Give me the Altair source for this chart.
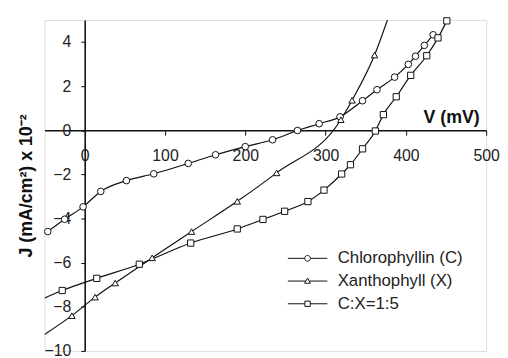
import altair as alt
import pandas as pd

series_names = ["Chlorophyllin (C)", "Xanthophyll (X)", "C:X=1:5"]

circ_V = [-46, -25, -2, 20, 52, 86, 129, 163, 200, 234, 265, 292, 318, 346, 364, 386, 403, 412, 423, 434]
circ_J = [-4.59, -4.03, -3.47, -2.77, -2.28, -1.97, -1.50, -1.11, -0.74, -0.43, -0.01, 0.30, 0.61, 1.34, 1.84, 2.41, 2.99, 3.36, 3.85, 4.33]

tri_V = [-16, 13, 38, 84, 133, 190, 239, 319, 333, 361]
tri_J = [-8.40, -7.56, -6.92, -5.78, -4.59, -3.22, -1.93, 0.48, 1.36, 3.41]
tri_line_V = [-50, 377]
tri_line_J = [-9.25, 5.0]

sq_V = [-28, 15, 68, 132, 190, 222, 249, 278, 298, 320, 331, 346, 362, 372, 388, 406, 426, 440, 451]
sq_J = [-7.26, -6.71, -6.07, -5.11, -4.47, -4.04, -3.67, -3.23, -2.71, -1.98, -1.56, -0.84, -0.03, 0.71, 1.52, 2.49, 3.38, 4.19, 4.96]
sq_line_V = [-50]
sq_line_J = [-7.60]

x_ticks = [0, 100, 200, 300, 400, 500]
y_ticks = [-10, -8, -6, -4, -2, 0, 2, 4]

rows = []
for name, vs, js, marker in [
    (series_names[0], circ_V, circ_J, True),
    (series_names[1], tri_V, tri_J, True),
    (series_names[1], tri_line_V, tri_line_J, False),
    (series_names[2], sq_V, sq_J, True),
    (series_names[2], sq_line_V, sq_line_J, False),
]:
    for v, j in zip(vs, js):
        rows.append({"series": name, "V": v, "J": j, "marker": marker})
df = pd.DataFrame(rows)

W, H = 447, 335
X_DOM = [-50, 500]
Y_DOM = [-10, 5]
FONT = "Liberation Sans"

x_enc = alt.X(
    "V:Q",
    scale=alt.Scale(domain=X_DOM, nice=False, zero=False),
    axis=alt.Axis(
        values=x_ticks, title="V (mV)", offset=-(H * 10 / 15), grid=False,
        domainColor="#111", domainWidth=1.6, tickColor="#111", tickWidth=1, tickSize=5,
        labelFontSize=16, labelFont=FONT, labelColor="#222", labelPadding=13,
        titleFont=FONT, titleFontSize=18, titleFontWeight="bold", titleColor="#111",
        titleAlign="right", titleBaseline="alphabetic", titleX=440, titleY=-8,
        labelFlush=False, labelOverlap=False,
    ),
)
y_enc = alt.Y(
    "J:Q",
    scale=alt.Scale(domain=Y_DOM, nice=False, zero=False),
    axis=alt.Axis(
        values=y_ticks, title="J (mA/cm²) x 10⁻²", offset=-(W * 50 / 550), grid=False,
        domainColor="#111", domainWidth=1.6, tickColor="#111", tickWidth=1, tickSize=4,
        labelFontSize=16, labelFont=FONT, labelColor="#222", labelPadding=10,
        titleFont=FONT, titleFontSize=18, titleFontWeight="bold", titleColor="#111",
        titleAngle=270, titleAlign="center", titleBaseline="middle",
        titleX=-58.6, titleY=H / 2, labelFlush=False, labelOverlap=False,
    ),
)

lines = alt.Chart(df).mark_line(color="#111", strokeWidth=1.2, interpolate="monotone", clip=True).encode(
    x=x_enc, y=y_enc, detail="series:N", order="V:Q"
)

points = alt.Chart(df).transform_filter("datum.marker").mark_point(
    filled=True, fill="white", stroke="#111", strokeWidth=1, opacity=1
).encode(
    x="V:Q", y="J:Q",
    shape=alt.Shape("series:N", scale=alt.Scale(domain=series_names, range=["circle", "triangle-up", "square"]), legend=None),
    size=alt.Size("series:N", scale=alt.Scale(domain=series_names, range=[45, 40, 36]), legend=None),
)

leg_paths = [
    "M-1,0L-0.145,0M0.145,0L1,0M0.145,0A0.145,0.145,0,1,1,-0.145,0A0.145,0.145,0,1,1,0.145,0Z",
    "M-1,0L-0.087,0M0.087,0L1,0M0,-0.15L0.15,0.11L-0.15,0.11Z",
    "M-1,0L-0.135,0M0.135,0L1,0M-0.135,-0.135L0.135,-0.135L0.135,0.135L-0.135,0.135Z",
]

legend_layer = alt.Chart(df).transform_filter("false").mark_point(
    filled=False, color="#111", strokeWidth=1, opacity=1
).encode(
    x="V:Q", y="J:Q",
    shape=alt.Shape(
        "series:N",
        scale=alt.Scale(domain=series_names, range=leg_paths),
        legend=alt.Legend(
            title=None, orient="none", legendX=245.7, legendY=230,
            symbolSize=1600, symbolStrokeWidth=1, symbolStrokeColor="#111",
            labelFont=FONT, labelFontSize=17, labelColor="#222", labelOffset=10,
            clipHeight=22.5, rowPadding=0, padding=0, labelLimit=300,
        ),
    ),
)

chart = alt.layer(lines, points, legend_layer).resolve_scale(shape="independent", size="independent").properties(
    width=W, height=H,
    autosize=alt.AutoSizeParams(type="none"),
    padding={"left": 37, "top": 10, "right": 14, "bottom": 5},
).configure_view(stroke=None).configure(background="white")

chart.save("out.html", embed_options={"renderer": "svg", "actions": False})
